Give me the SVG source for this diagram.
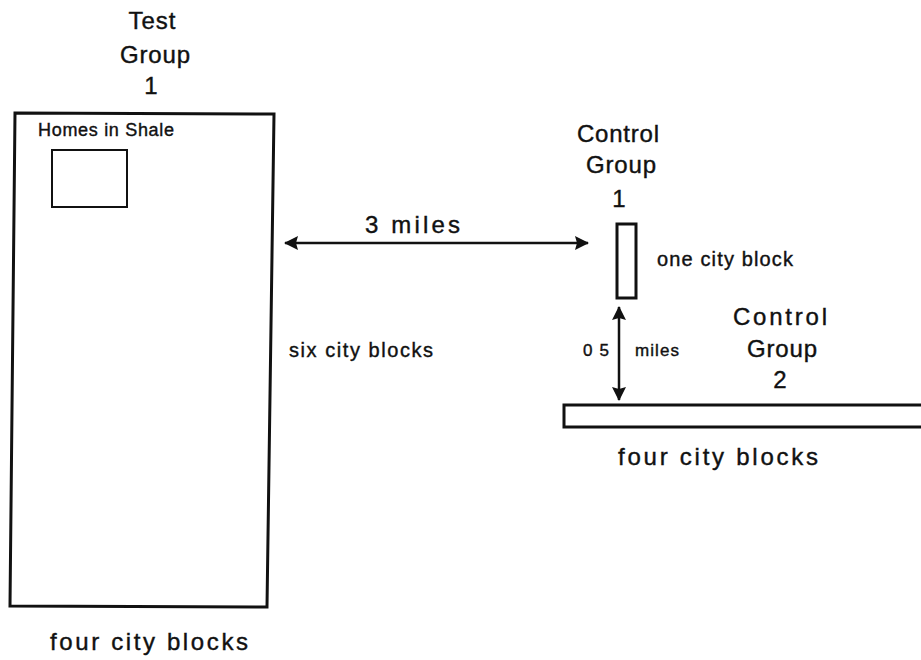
<svg xmlns="http://www.w3.org/2000/svg" width="921" height="660" viewBox="0 0 921 660">
<style>
text{font-family:"Liberation Sans",Arial,sans-serif;fill:#111;stroke:#111;stroke-width:0.4}
.h{font-size:24px}
.m{font-size:20px}
.k{font-size:18px}
.s{font-size:17px}
.box{fill:none;stroke:#111;stroke-width:3}
.thin{fill:none;stroke:#111;stroke-width:2}
.ln{stroke:#111;stroke-width:2.5;fill:none}
</style>
<defs>
<marker id="ah" viewBox="0 0 14 14" refX="13" refY="7" markerWidth="14" markerHeight="14" markerUnits="userSpaceOnUse" orient="auto-start-reverse">
<path d="M0,0 L14,7 L0,14 L2,7 Z" fill="#111"/>
</marker>
</defs>
<g id="test-group-1">
<text class="h" x="152" y="29" text-anchor="middle" textLength="47">Test</text>
<text class="h" x="155" y="63" text-anchor="middle" textLength="70">Group</text>
<text class="h" x="151" y="94" text-anchor="middle">1</text>
<polygon class="box" points="15,113 274,114 267,607 10,606"/>
<text class="h" x="50" y="650" textLength="198" lengthAdjust="spacing">four  city  blocks</text>
</g>
<g id="homes-in-shale">
<text class="k" x="38" y="136" textLength="136" lengthAdjust="spacing">Homes in Shale</text>
<rect class="thin" x="52" y="150" width="75" height="57"/>
</g>
<g id="control-group-1">
<text class="h" x="618" y="142" text-anchor="middle" textLength="82">Control</text>
<text class="h" x="621" y="173" text-anchor="middle" textLength="70">Group</text>
<text class="h" x="619" y="207" text-anchor="middle">1</text>
<rect class="box" x="617" y="224" width="19" height="74"/>
<text class="m" x="657" y="266" textLength="136" lengthAdjust="spacing">one city block</text>
</g>
<g id="control-group-2">
<text class="h" x="780" y="325" text-anchor="middle" textLength="94">Control</text>
<text class="h" x="782" y="357" text-anchor="middle" textLength="70">Group</text>
<text class="h" x="780" y="388" text-anchor="middle">2</text>
<rect class="box" x="564" y="405" width="370" height="22"/>
<text class="h" x="618" y="465" textLength="200" lengthAdjust="spacing">four  city  blocks</text>
</g>
<g id="labels">
<text class="m" x="289" y="357" textLength="144" lengthAdjust="spacing">six city blocks</text>
<text class="h" x="365" y="233" textLength="95" lengthAdjust="spacing">3  miles</text>
<text class="s" x="583" y="356" textLength="26" lengthAdjust="spacing">0 5</text>
<text class="s" x="635" y="356" textLength="44" lengthAdjust="spacing">miles</text>
</g>
<g id="connectors">
<line class="ln" x1="285" y1="243" x2="588" y2="243" marker-start="url(#ah)" marker-end="url(#ah)"/>
<line class="ln" x1="619" y1="307" x2="619" y2="400" marker-start="url(#ah)" marker-end="url(#ah)"/>
</g>
</svg>
